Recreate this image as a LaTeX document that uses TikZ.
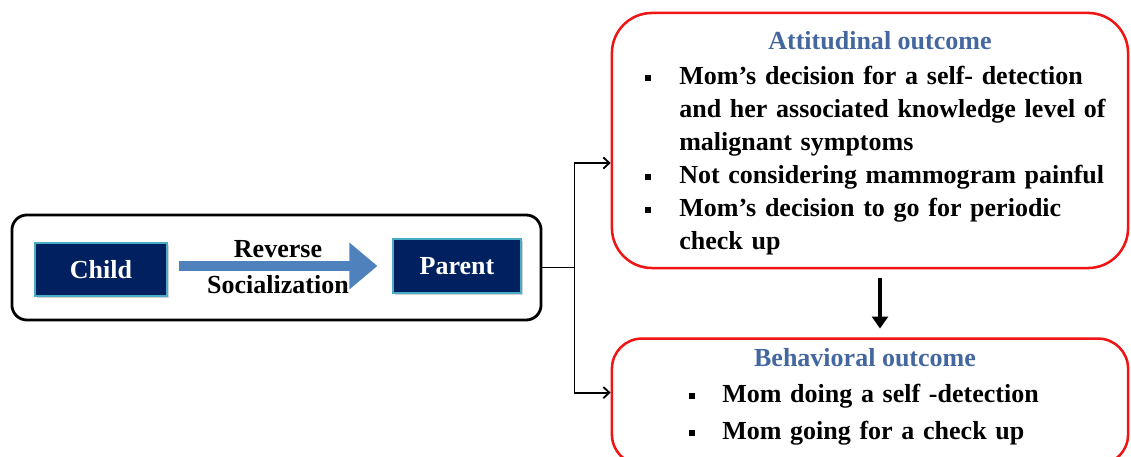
\documentclass[tikz,border=0pt]{standalone}
\usepackage{fontspec}
\setmainfont{Liberation Serif}
\usetikzlibrary{positioning, arrows.meta, shadows}

\definecolor{navyfill}{RGB}{0,32,96}
\definecolor{navyedge}{RGB}{75,172,198}
\definecolor{shaftblue}{RGB}{79,129,189}
\definecolor{headblue}{RGB}{68,103,160}
\definecolor{outred}{RGB}{240,20,20}

\newcommand{\sqbullet}{\raisebox{0.3ex}{\rule{0.15cm}{0.15cm}}}
\newcommand{\attitem}{\hangindent=0.85cm\noindent\makebox[0.85cm][l]{\sqbullet}}
\newcommand{\behitem}{\hangindent=0.825cm\noindent\makebox[0.825cm][l]{\sqbullet}}

\begin{document}
\begin{tikzpicture}[x=0.025cm, y=-0.025cm,
		every node/.style={font=\bfseries\fontsize{18.5}{23.5}\selectfont},
		agent/.style={rectangle, draw=navyedge, line width=0.8pt, fill=navyfill, text=white, drop shadow={opacity=0.35, shadow xshift=0.04cm, shadow yshift=-0.06cm}},
		outcome/.style={rectangle, draw=outred, line width=1.8pt, minimum width=12.9cm},
		heading/.style={text=headblue, anchor=base},
		link/.style={line width=1.3pt, -{Straight Barb[length=0.15cm, width=0.28cm]}}]
		\clip (0,0) rectangle (1131,457);
		
		% left part
		\node[rectangle, draw, line width=2pt, rounded corners=0.375cm, minimum width=13.225cm, minimum height=2.625cm] (pair) at (276.5,267.5) {};
		\node[agent, minimum width=3.3cm, minimum height=1.325cm] (child) at (101,269.5) {Child};
		\node[agent, minimum width=3.2cm, minimum height=1.35cm] (parent) at (457,266) {Parent};
		
		\path (child.east |- parent.west) coordinate (tail);
		\draw[shaftblue, line width=0.25cm, -{Triangle[length=0.7cm, width=1.125cm]}] ([xshift=0.275cm]tail) -- ([xshift=-0.375cm]parent.west)
			node[midway, yshift=0.43cm, text=black] (rev) {Reverse}
			node[midway, yshift=-0.47cm, text=black] (soc) {Socialization};
		
		% right part
		\node[outcome, rounded corners=1cm, minimum height=6.375cm] (att) at (870,140.5) {};
		\node[outcome, rounded corners=0.75cm, minimum height=3.15cm, below=1.7cm of att] (beh) {};
		
		\node[heading] (atttitle) at (880,49.5) {Attitudinal outcome};
		\node[anchor=north west, inner sep=0pt, text width=11.6cm, align=left] (attlist) at (645,66) {%
			\attitem Mom's decision for a self- detection and her associated knowledge level of malignant symptoms\par
			\attitem Not considering mammogram painful\par
			\attitem Mom's decision to go for periodic check up\par};
		
		\node[heading] (behtitle) at (865,366.5) {Behavioral outcome};
		\node[anchor=north west, inner sep=0pt, text width=10cm, align=left, font=\bfseries\fontsize{18.5}{26.3}\selectfont] (behlist) at (689,384) {%
			\behitem Mom doing a self -detection\par
			\behitem Mom going for a check up\par};
		
		% connectors
		\coordinate[right=0.8cm of pair.east] (split);
		\draw[line width=1.3pt] (pair.east) -- (split);
		\draw[link] (split) |- ([yshift=-0.5625cm]att.west);
		\draw[link] (split) |- ([yshift=0.225cm]beh.west);
		\draw[line width=2.8pt, -{Triangle[length=0.3cm, width=0.4cm]}, shorten <=0.22cm, shorten >=0.22cm] ([xshift=0.25cm]att.south) -- ([xshift=0.25cm]att.south |- beh.north);
	\end{tikzpicture}
\end{document}
